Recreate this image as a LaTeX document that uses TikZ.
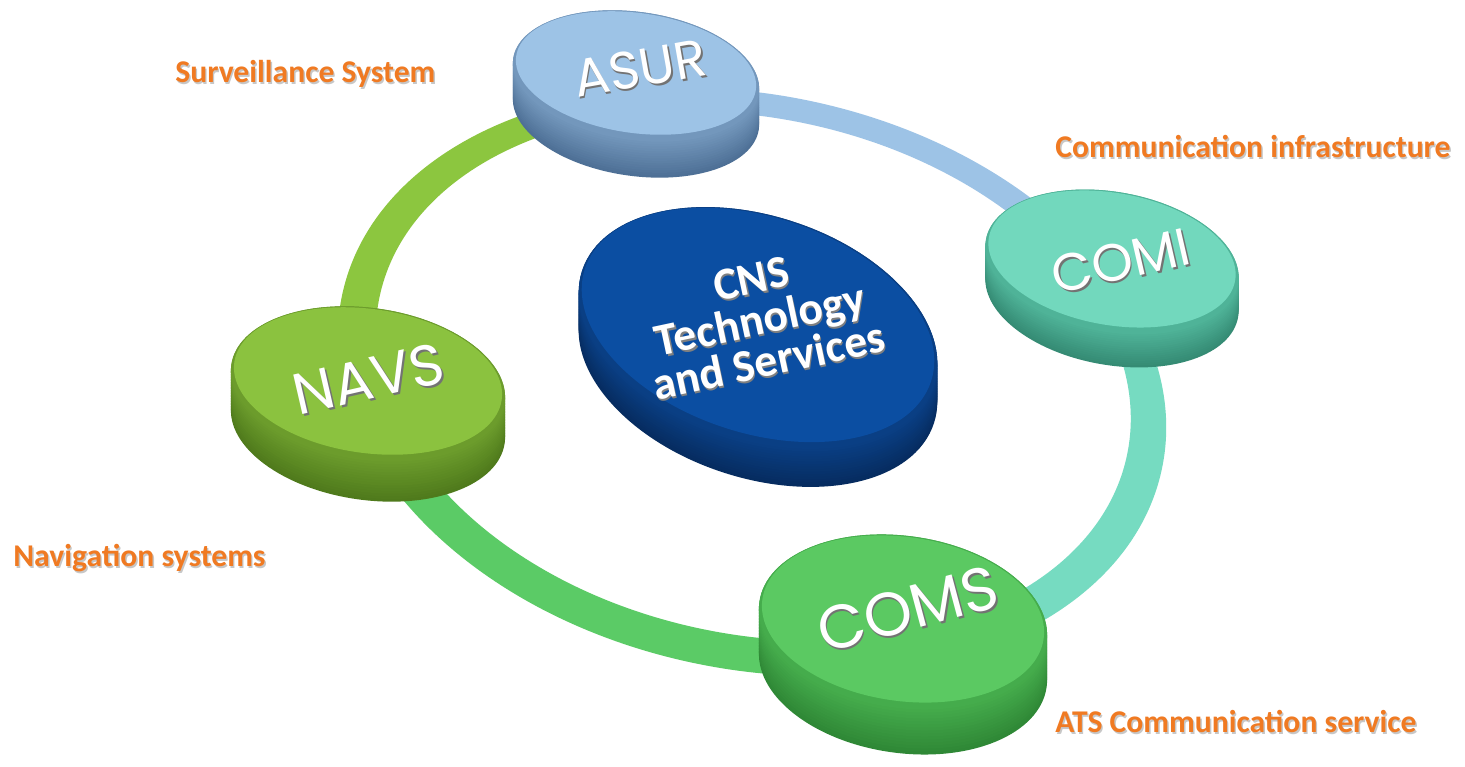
\documentclass[tikz,border=0pt]{standalone}
\usepackage{fontspec}
\setmainfont{Carlito}
\newfontfamily\puckfont{Poppins}
\usepackage{tikz}
\usetikzlibrary{calc}
\definecolor{asurtop}{HTML}{9DC3E6}
\definecolor{asurside}{HTML}{7397BC}
\definecolor{asurdark}{HTML}{4E7096}
\definecolor{comitop}{HTML}{72D8BD}
\definecolor{comiside}{HTML}{4FB398}
\definecolor{comidark}{HTML}{358B74}
\definecolor{comstop}{HTML}{5BC962}
\definecolor{comsside}{HTML}{45AC4C}
\definecolor{comsdark}{HTML}{2F8836}
\definecolor{navstop}{HTML}{8BC23F}
\definecolor{navsside}{HTML}{6C9C2C}
\definecolor{navsdark}{HTML}{4F7A1C}
\definecolor{coretop}{HTML}{0B4EA2}
\definecolor{coreside}{HTML}{0A3F84}
\definecolor{coredark}{HTML}{062C60}
\definecolor{ringblue}{HTML}{9DC3E6}
\definecolor{ringteal}{HTML}{76DBC1}
\definecolor{ringgreen}{HTML}{5BCB66}
\definecolor{ringlime}{HTML}{8CC63F}
\definecolor{tagorange}{HTML}{F07A22}

% puck: name, x radius, y radius, tilt, depth, colour prefix
\newcommand{\puck}[6]{%
  \foreach \k in {0,...,15}{%
    \pgfmathsetmacro{\d}{#5*(1-\k/15)}
    \pgfmathtruncatemacro{\p}{100*\k/15}
    \fill[#6side!\p!#6dark, shift={($(#1)+(0,-\d)$)}, rotate=#4] (0,0) ellipse [x radius=#2, y radius=#3];
  }
  \fill[#6side, shift={(#1)}, rotate=#4] (0,0) ellipse [x radius=#2, y radius=#3];
  \fill[#6top, shift={($(#1)+(0,0.03)$)}, rotate=#4] (0,0) ellipse [x radius=#2-0.03, y radius=#3-0.04];
}
% text with a soft shadow: name, style, shadow colour, position, angle, text
\newcommand{\shadetext}[6]{%
  \node[#2, text=#3, rotate=#5] (#1-s) at ($#4+(0.014,-0.02)$) {#6};
  \node[#2, rotate=#5] (#1) at #4 {#6};
}

\begin{document}
\begin{tikzpicture}[x=2cm,y=2cm,
  tag/.style={font=\bfseries\fontsize{18}{18}\selectfont, text=tagorange, anchor=base west, inner sep=0pt},
  puck/.style={font=\puckfont\fontsize{#1}{#1}\selectfont, text=white, inner sep=0pt},
  core/.style={font=\bfseries\fontsize{26}{24}\selectfont, text=white, align=center, inner sep=0pt}]
  \fill[white] (0,0) rectangle (14.65,7.67);
  \useasboundingbox (0,0) rectangle (14.65,7.67);

  \coordinate (hub) at (7.52,3.85);
  \coordinate (cns) at (7.58,4.39);
  \coordinate (asur) at (6.36,6.91);
  \coordinate (comi) at (11.12,5.05);
  \coordinate (coms) at (9.03,1.45);
  \coordinate (navs) at (3.68,3.83);

  % ring, one colour per quarter
  \foreach \a/\b/\c in {asur/comi/ringblue, comi/coms/ringteal, coms/navs/ringgreen, navs/asur/ringlime}{
    \begin{scope}
      \clip (hub) -- ($(hub)!8!(\a)$) -- ($(hub)!8!(\b)$) -- cycle;
      \fill[\c, even odd rule, shift={(hub)}, rotate=-12]
        (0,0) ellipse [x radius=4.19, y radius=2.87]
        (0,0.06) ellipse [x radius=3.82, y radius=2.58];
    \end{scope}
  }

  \puck{cns}{1.85}{1.12}{-18}{0.38}{core}
  \puck{asur}{1.24}{0.64}{-8}{0.36}{asur}
  \puck{comi}{1.28}{0.70}{-10}{0.33}{comi}
  \puck{navs}{1.38}{0.76}{-8}{0.40}{navs}
  \puck{coms}{1.45}{0.86}{-8}{0.45}{coms}

  \shadetext{cns-t}{core}{black!50}{(7.60,4.47)}{12}{CNS\\Technology\\and Services}
  \shadetext{asur-t}{puck=30}{black!55}{(6.40,6.99)}{10}{ASUR}
  \shadetext{comi-t}{puck=30}{black!55}{(11.21,5.06)}{13}{COMI}
  \shadetext{navs-t}{puck=33}{black!55}{(3.69,3.88)}{13}{NAVS}
  \shadetext{coms-t}{puck=35}{black!55}{(9.08,1.58)}{15}{COMS}

  \shadetext{surv}{tag}{black!22}{(1.75,6.84)}{0}{Surveillance System}
  \shadetext{infra}{tag}{black!22}{(10.55,6.09)}{0}{Communication infrastructure}
  \shadetext{nav}{tag}{black!22}{(0.13,2.00)}{0}{Navigation systems}
  \shadetext{ats}{tag}{black!22}{(10.55,0.34)}{0}{ATS Communication service}
\end{tikzpicture}
\end{document}
